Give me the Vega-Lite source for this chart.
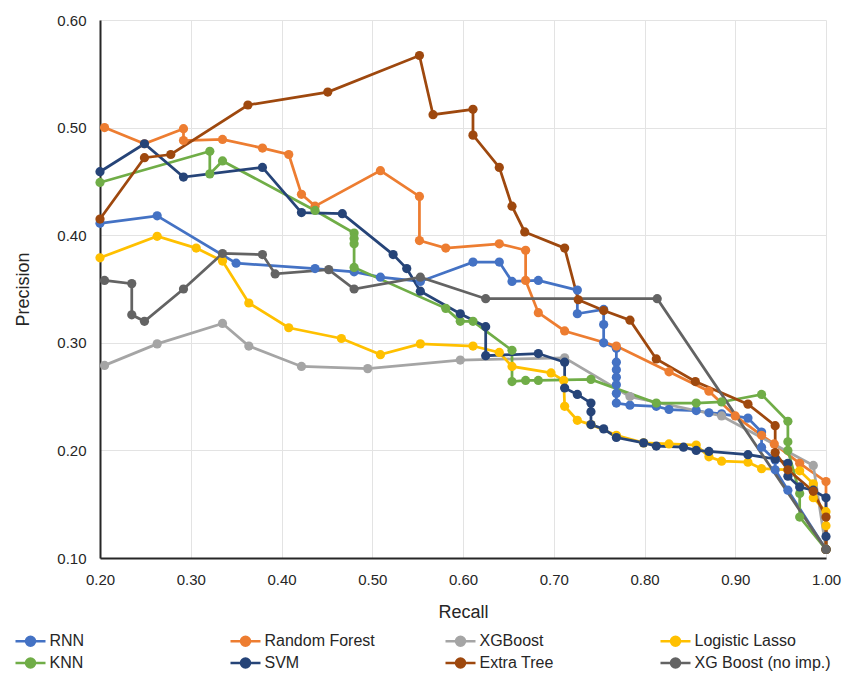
{
  "$schema": "https://vega.github.io/schema/vega-lite/v6.json",
  "width": 726,
  "height": 538,
  "autosize": {"type": "none"},
  "padding": {"left": 100, "top": 20, "right": 23, "bottom": 115},
  "background": "white",
  "config": {"view": {"stroke": null}, "font": "Liberation Sans"},
  "datasets": {
    "pr": [
      {"model": "RNN", "recall": 0.200, "precision": 0.411},
      {"model": "RNN", "recall": 0.263, "precision": 0.418},
      {"model": "RNN", "recall": 0.350, "precision": 0.374},
      {"model": "RNN", "recall": 0.437, "precision": 0.369},
      {"model": "RNN", "recall": 0.480, "precision": 0.366},
      {"model": "RNN", "recall": 0.509, "precision": 0.361},
      {"model": "RNN", "recall": 0.553, "precision": 0.357},
      {"model": "RNN", "recall": 0.611, "precision": 0.375},
      {"model": "RNN", "recall": 0.640, "precision": 0.375},
      {"model": "RNN", "recall": 0.654, "precision": 0.357},
      {"model": "RNN", "recall": 0.683, "precision": 0.358},
      {"model": "RNN", "recall": 0.726, "precision": 0.349},
      {"model": "RNN", "recall": 0.726, "precision": 0.327},
      {"model": "RNN", "recall": 0.755, "precision": 0.331},
      {"model": "RNN", "recall": 0.755, "precision": 0.317},
      {"model": "RNN", "recall": 0.755, "precision": 0.300},
      {"model": "RNN", "recall": 0.769, "precision": 0.295},
      {"model": "RNN", "recall": 0.769, "precision": 0.282},
      {"model": "RNN", "recall": 0.769, "precision": 0.275},
      {"model": "RNN", "recall": 0.769, "precision": 0.268},
      {"model": "RNN", "recall": 0.769, "precision": 0.261},
      {"model": "RNN", "recall": 0.769, "precision": 0.253},
      {"model": "RNN", "recall": 0.769, "precision": 0.244},
      {"model": "RNN", "recall": 0.784, "precision": 0.242},
      {"model": "RNN", "recall": 0.813, "precision": 0.241},
      {"model": "RNN", "recall": 0.827, "precision": 0.238},
      {"model": "RNN", "recall": 0.857, "precision": 0.237},
      {"model": "RNN", "recall": 0.871, "precision": 0.235},
      {"model": "RNN", "recall": 0.885, "precision": 0.234},
      {"model": "RNN", "recall": 0.914, "precision": 0.230},
      {"model": "RNN", "recall": 0.929, "precision": 0.217},
      {"model": "RNN", "recall": 0.929, "precision": 0.203},
      {"model": "RNN", "recall": 0.944, "precision": 0.191},
      {"model": "RNN", "recall": 0.944, "precision": 0.182},
      {"model": "RNN", "recall": 0.958, "precision": 0.163},
      {"model": "RNN", "recall": 1.000, "precision": 0.108},

      {"model": "Random Forest", "recall": 0.205, "precision": 0.500},
      {"model": "Random Forest", "recall": 0.249, "precision": 0.485},
      {"model": "Random Forest", "recall": 0.292, "precision": 0.499},
      {"model": "Random Forest", "recall": 0.292, "precision": 0.488},
      {"model": "Random Forest", "recall": 0.335, "precision": 0.489},
      {"model": "Random Forest", "recall": 0.379, "precision": 0.481},
      {"model": "Random Forest", "recall": 0.408, "precision": 0.475},
      {"model": "Random Forest", "recall": 0.422, "precision": 0.438},
      {"model": "Random Forest", "recall": 0.437, "precision": 0.427},
      {"model": "Random Forest", "recall": 0.509, "precision": 0.460},
      {"model": "Random Forest", "recall": 0.552, "precision": 0.436},
      {"model": "Random Forest", "recall": 0.552, "precision": 0.395},
      {"model": "Random Forest", "recall": 0.581, "precision": 0.388},
      {"model": "Random Forest", "recall": 0.640, "precision": 0.392},
      {"model": "Random Forest", "recall": 0.669, "precision": 0.386},
      {"model": "Random Forest", "recall": 0.669, "precision": 0.358},
      {"model": "Random Forest", "recall": 0.683, "precision": 0.328},
      {"model": "Random Forest", "recall": 0.712, "precision": 0.311},
      {"model": "Random Forest", "recall": 0.769, "precision": 0.297},
      {"model": "Random Forest", "recall": 0.827, "precision": 0.273},
      {"model": "Random Forest", "recall": 0.871, "precision": 0.255},
      {"model": "Random Forest", "recall": 0.900, "precision": 0.232},
      {"model": "Random Forest", "recall": 0.929, "precision": 0.214},
      {"model": "Random Forest", "recall": 0.943, "precision": 0.206},
      {"model": "Random Forest", "recall": 0.971, "precision": 0.188},
      {"model": "Random Forest", "recall": 1.000, "precision": 0.171},
      {"model": "Random Forest", "recall": 1.000, "precision": 0.108},

      {"model": "XGBoost", "recall": 0.205, "precision": 0.279},
      {"model": "XGBoost", "recall": 0.263, "precision": 0.299},
      {"model": "XGBoost", "recall": 0.335, "precision": 0.318},
      {"model": "XGBoost", "recall": 0.364, "precision": 0.297},
      {"model": "XGBoost", "recall": 0.422, "precision": 0.278},
      {"model": "XGBoost", "recall": 0.495, "precision": 0.276},
      {"model": "XGBoost", "recall": 0.597, "precision": 0.284},
      {"model": "XGBoost", "recall": 0.712, "precision": 0.286},
      {"model": "XGBoost", "recall": 0.784, "precision": 0.250},
      {"model": "XGBoost", "recall": 0.885, "precision": 0.232},
      {"model": "XGBoost", "recall": 0.986, "precision": 0.186},
      {"model": "XGBoost", "recall": 1.000, "precision": 0.108},

      {"model": "Logistic Lasso", "recall": 0.200, "precision": 0.379},
      {"model": "Logistic Lasso", "recall": 0.263, "precision": 0.399},
      {"model": "Logistic Lasso", "recall": 0.306, "precision": 0.388},
      {"model": "Logistic Lasso", "recall": 0.335, "precision": 0.376},
      {"model": "Logistic Lasso", "recall": 0.364, "precision": 0.337},
      {"model": "Logistic Lasso", "recall": 0.408, "precision": 0.314},
      {"model": "Logistic Lasso", "recall": 0.466, "precision": 0.304},
      {"model": "Logistic Lasso", "recall": 0.509, "precision": 0.289},
      {"model": "Logistic Lasso", "recall": 0.553, "precision": 0.299},
      {"model": "Logistic Lasso", "recall": 0.611, "precision": 0.297},
      {"model": "Logistic Lasso", "recall": 0.640, "precision": 0.291},
      {"model": "Logistic Lasso", "recall": 0.654, "precision": 0.278},
      {"model": "Logistic Lasso", "recall": 0.697, "precision": 0.272},
      {"model": "Logistic Lasso", "recall": 0.711, "precision": 0.265},
      {"model": "Logistic Lasso", "recall": 0.712, "precision": 0.241},
      {"model": "Logistic Lasso", "recall": 0.726, "precision": 0.228},
      {"model": "Logistic Lasso", "recall": 0.741, "precision": 0.224},
      {"model": "Logistic Lasso", "recall": 0.769, "precision": 0.214},
      {"model": "Logistic Lasso", "recall": 0.799, "precision": 0.207},
      {"model": "Logistic Lasso", "recall": 0.827, "precision": 0.206},
      {"model": "Logistic Lasso", "recall": 0.857, "precision": 0.205},
      {"model": "Logistic Lasso", "recall": 0.871, "precision": 0.194},
      {"model": "Logistic Lasso", "recall": 0.885, "precision": 0.190},
      {"model": "Logistic Lasso", "recall": 0.914, "precision": 0.189},
      {"model": "Logistic Lasso", "recall": 0.929, "precision": 0.183},
      {"model": "Logistic Lasso", "recall": 0.958, "precision": 0.182},
      {"model": "Logistic Lasso", "recall": 0.971, "precision": 0.181},
      {"model": "Logistic Lasso", "recall": 0.986, "precision": 0.169},
      {"model": "Logistic Lasso", "recall": 0.986, "precision": 0.156},
      {"model": "Logistic Lasso", "recall": 1.000, "precision": 0.143},
      {"model": "Logistic Lasso", "recall": 1.000, "precision": 0.130},
      {"model": "Logistic Lasso", "recall": 1.000, "precision": 0.108},

      {"model": "KNN", "recall": 0.200, "precision": 0.449},
      {"model": "KNN", "recall": 0.321, "precision": 0.478},
      {"model": "KNN", "recall": 0.321, "precision": 0.457},
      {"model": "KNN", "recall": 0.335, "precision": 0.469},
      {"model": "KNN", "recall": 0.437, "precision": 0.423},
      {"model": "KNN", "recall": 0.480, "precision": 0.402},
      {"model": "KNN", "recall": 0.480, "precision": 0.397},
      {"model": "KNN", "recall": 0.480, "precision": 0.392},
      {"model": "KNN", "recall": 0.480, "precision": 0.370},
      {"model": "KNN", "recall": 0.581, "precision": 0.332},
      {"model": "KNN", "recall": 0.597, "precision": 0.320},
      {"model": "KNN", "recall": 0.611, "precision": 0.320},
      {"model": "KNN", "recall": 0.654, "precision": 0.293},
      {"model": "KNN", "recall": 0.654, "precision": 0.264},
      {"model": "KNN", "recall": 0.669, "precision": 0.265},
      {"model": "KNN", "recall": 0.683, "precision": 0.265},
      {"model": "KNN", "recall": 0.741, "precision": 0.266},
      {"model": "KNN", "recall": 0.813, "precision": 0.244},
      {"model": "KNN", "recall": 0.857, "precision": 0.244},
      {"model": "KNN", "recall": 0.885, "precision": 0.245},
      {"model": "KNN", "recall": 0.929, "precision": 0.252},
      {"model": "KNN", "recall": 0.958, "precision": 0.227},
      {"model": "KNN", "recall": 0.958, "precision": 0.208},
      {"model": "KNN", "recall": 0.958, "precision": 0.200},
      {"model": "KNN", "recall": 0.971, "precision": 0.160},
      {"model": "KNN", "recall": 0.971, "precision": 0.138},
      {"model": "KNN", "recall": 1.000, "precision": 0.108},

      {"model": "SVM", "recall": 0.200, "precision": 0.459},
      {"model": "SVM", "recall": 0.249, "precision": 0.485},
      {"model": "SVM", "recall": 0.292, "precision": 0.454},
      {"model": "SVM", "recall": 0.379, "precision": 0.463},
      {"model": "SVM", "recall": 0.422, "precision": 0.421},
      {"model": "SVM", "recall": 0.467, "precision": 0.420},
      {"model": "SVM", "recall": 0.523, "precision": 0.382},
      {"model": "SVM", "recall": 0.538, "precision": 0.369},
      {"model": "SVM", "recall": 0.553, "precision": 0.348},
      {"model": "SVM", "recall": 0.597, "precision": 0.327},
      {"model": "SVM", "recall": 0.625, "precision": 0.315},
      {"model": "SVM", "recall": 0.625, "precision": 0.288},
      {"model": "SVM", "recall": 0.683, "precision": 0.290},
      {"model": "SVM", "recall": 0.712, "precision": 0.282},
      {"model": "SVM", "recall": 0.712, "precision": 0.258},
      {"model": "SVM", "recall": 0.726, "precision": 0.252},
      {"model": "SVM", "recall": 0.741, "precision": 0.244},
      {"model": "SVM", "recall": 0.741, "precision": 0.236},
      {"model": "SVM", "recall": 0.741, "precision": 0.224},
      {"model": "SVM", "recall": 0.755, "precision": 0.220},
      {"model": "SVM", "recall": 0.769, "precision": 0.212},
      {"model": "SVM", "recall": 0.799, "precision": 0.207},
      {"model": "SVM", "recall": 0.813, "precision": 0.204},
      {"model": "SVM", "recall": 0.843, "precision": 0.203},
      {"model": "SVM", "recall": 0.857, "precision": 0.200},
      {"model": "SVM", "recall": 0.871, "precision": 0.199},
      {"model": "SVM", "recall": 0.914, "precision": 0.196},
      {"model": "SVM", "recall": 0.944, "precision": 0.192},
      {"model": "SVM", "recall": 0.958, "precision": 0.188},
      {"model": "SVM", "recall": 0.958, "precision": 0.176},
      {"model": "SVM", "recall": 0.971, "precision": 0.166},
      {"model": "SVM", "recall": 0.986, "precision": 0.163},
      {"model": "SVM", "recall": 1.000, "precision": 0.156},
      {"model": "SVM", "recall": 1.000, "precision": 0.120},
      {"model": "SVM", "recall": 1.000, "precision": 0.108},

      {"model": "Extra Tree", "recall": 0.200, "precision": 0.415},
      {"model": "Extra Tree", "recall": 0.249, "precision": 0.472},
      {"model": "Extra Tree", "recall": 0.278, "precision": 0.475},
      {"model": "Extra Tree", "recall": 0.363, "precision": 0.521},
      {"model": "Extra Tree", "recall": 0.451, "precision": 0.533},
      {"model": "Extra Tree", "recall": 0.552, "precision": 0.567},
      {"model": "Extra Tree", "recall": 0.567, "precision": 0.512},
      {"model": "Extra Tree", "recall": 0.611, "precision": 0.517},
      {"model": "Extra Tree", "recall": 0.611, "precision": 0.493},
      {"model": "Extra Tree", "recall": 0.640, "precision": 0.463},
      {"model": "Extra Tree", "recall": 0.654, "precision": 0.427},
      {"model": "Extra Tree", "recall": 0.668, "precision": 0.403},
      {"model": "Extra Tree", "recall": 0.712, "precision": 0.388},
      {"model": "Extra Tree", "recall": 0.727, "precision": 0.340},
      {"model": "Extra Tree", "recall": 0.755, "precision": 0.330},
      {"model": "Extra Tree", "recall": 0.784, "precision": 0.321},
      {"model": "Extra Tree", "recall": 0.813, "precision": 0.285},
      {"model": "Extra Tree", "recall": 0.856, "precision": 0.264},
      {"model": "Extra Tree", "recall": 0.914, "precision": 0.243},
      {"model": "Extra Tree", "recall": 0.944, "precision": 0.223},
      {"model": "Extra Tree", "recall": 0.944, "precision": 0.198},
      {"model": "Extra Tree", "recall": 0.958, "precision": 0.182},
      {"model": "Extra Tree", "recall": 0.986, "precision": 0.162},
      {"model": "Extra Tree", "recall": 1.000, "precision": 0.138},
      {"model": "Extra Tree", "recall": 1.000, "precision": 0.108},

      {"model": "XG Boost (no imp.)", "recall": 0.205, "precision": 0.358},
      {"model": "XG Boost (no imp.)", "recall": 0.235, "precision": 0.355},
      {"model": "XG Boost (no imp.)", "recall": 0.235, "precision": 0.326},
      {"model": "XG Boost (no imp.)", "recall": 0.249, "precision": 0.320},
      {"model": "XG Boost (no imp.)", "recall": 0.292, "precision": 0.350},
      {"model": "XG Boost (no imp.)", "recall": 0.335, "precision": 0.383},
      {"model": "XG Boost (no imp.)", "recall": 0.379, "precision": 0.382},
      {"model": "XG Boost (no imp.)", "recall": 0.393, "precision": 0.364},
      {"model": "XG Boost (no imp.)", "recall": 0.452, "precision": 0.368},
      {"model": "XG Boost (no imp.)", "recall": 0.480, "precision": 0.350},
      {"model": "XG Boost (no imp.)", "recall": 0.553, "precision": 0.361},
      {"model": "XG Boost (no imp.)", "recall": 0.625, "precision": 0.341},
      {"model": "XG Boost (no imp.)", "recall": 0.814, "precision": 0.341},
      {"model": "XG Boost (no imp.)", "recall": 1.000, "precision": 0.108}
    ]
  },
  "data": {"name": "pr"},
  "mark": {
    "type": "line",
    "strokeWidth": 2.75,
    "clip": false,
    "point": {"filled": true, "size": 85, "opacity": 1}
  },
  "encoding": {
    "x": {
      "field": "recall",
      "type": "quantitative",
      "scale": {"domain": [0.2, 1.0], "nice": false, "zero": false},
      "axis": {
        "values": [0.2, 0.3, 0.4, 0.5, 0.6, 0.7, 0.8, 0.9, 1.0],
        "format": ".2f",
        "title": "Recall",
        "titleFontSize": 18,
        "titleFontWeight": "normal",
        "titleColor": "#262626",
        "titlePadding": 16,
        "labelFontSize": 15,
        "labelColor": "#262626",
        "labelPadding": 14,
        "labelFlush": false,
        "ticks": false,
        "domainColor": "#262626",
        "domainWidth": 2,
        "gridColor": "#E3E3E3",
        "gridWidth": 1
      }
    },
    "y": {
      "field": "precision",
      "type": "quantitative",
      "scale": {"domain": [0.1, 0.6], "nice": false, "zero": false},
      "axis": {
        "values": [0.1, 0.2, 0.3, 0.4, 0.5, 0.6],
        "format": ".2f",
        "title": "Precision",
        "titleFontSize": 18,
        "titleFontWeight": "normal",
        "titleColor": "#262626",
        "titlePadding": 24,
        "labelFontSize": 15,
        "labelColor": "#262626",
        "labelPadding": 14,
        "labelFlush": false,
        "ticks": false,
        "domainColor": "#262626",
        "domainWidth": 2,
        "gridColor": "#E3E3E3",
        "gridWidth": 1
      }
    },
    "color": {
      "field": "model",
      "type": "nominal",
      "scale": {
        "domain": ["RNN", "Random Forest", "XGBoost", "Logistic Lasso", "KNN", "SVM", "Extra Tree", "XG Boost (no imp.)"],
        "range": ["#4472C4", "#ED7D31", "#A5A5A5", "#FFC000", "#70AD47", "#264478", "#9E480E", "#636363"]
      },
      "legend": {
        "title": null,
        "orient": "none",
        "legendX": -78.5,
        "legendY": 612,
        "direction": "horizontal",
        "columns": 4,
        "gridAlign": "all",
        "columnPadding": 39,
        "rowPadding": 2,
        "padding": 0,
        "symbolType": "M-2,0L2,0M-0.6,0A0.6,0.6 0 1,1 0.6,0A0.6,0.6 0 1,1 -0.6,0Z",
        "symbolSize": 225,
        "symbolStrokeWidth": 2.5,
        "symbolOpacity": 1,
        "labelFontSize": 16,
        "labelColor": "#262626",
        "labelOffset": 10,
        "labelLimit": 300
      }
    },
    "order": {"value": null}
  }
}
